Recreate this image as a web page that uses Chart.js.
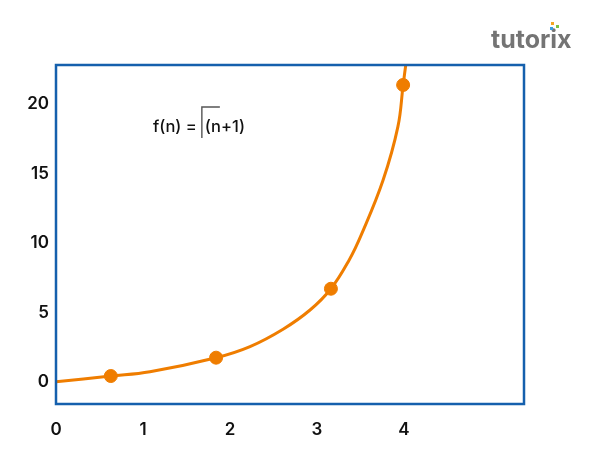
<!DOCTYPE html>
<html>

<head>
  <meta name="viewport" content="width=device-width,initial-scale=1.0">
  <title>f(n) = Γ(n+1)</title>
  <style>
    html, body { margin: 0; padding: 0; background: #fff; }
    .wrap { width: 600px; height: 450px; }
  </style>
</head>

<body>
  <div class="wrap"><canvas id="gamma-chart" width="600" height="450"></canvas></div>

  <script src="https://cdn.jsdelivr.net/npm/chart.js"></script>

  <script>
    // values (axis units)
    const curveX = [0, 0.63, 1.08, 1.84, 2.23, 2.61, 2.92, 3.16, 3.37, 3.51, 3.76, 3.93, 3.99, 4.02];
    const curveY = [0.02, 0.43, 0.74, 1.75, 2.55, 3.8, 5.18, 6.71, 8.78, 10.6, 14.53, 18.37, 21.37, 22.8];
    const dotX = [0.63, 1.84, 3.16, 3.99];
    const dotY = [0.43, 1.75, 6.71, 21.37];
    const xTicks = [0, 1, 2, 3, 4];
    const yTicks = [0, 5, 10, 15, 20];
    const formulaLeft = 'f(n) =';
    const formulaRight = '(n+1)';
    const logoText = 'tutorix';

    const ORANGE = '#ef7d00';
    const BLUE = '#1560ad';
    const tickFont = { family: 'Inter', size: 17, weight: '600' };

    const frameAndText = {
      id: 'frameAndText',
      afterDraw(chart) {
        const { ctx, chartArea: a } = chart;
        ctx.save();
        // frame
        ctx.strokeStyle = BLUE;
        ctx.lineWidth = 2.5;
        ctx.strokeRect(a.left, a.top, a.right - a.left, a.bottom - a.top);

        // formula
        ctx.fillStyle = '#111';
        ctx.font = '500 16.5px Inter';
        ctx.textBaseline = 'middle';
        ctx.fillText(formulaLeft, 153, 127);
        const gx = 153 + ctx.measureText(formulaLeft).width + 5;
        ctx.strokeStyle = '#555';
        ctx.lineWidth = 1.4;
        ctx.beginPath();
        ctx.moveTo(gx, 138);
        ctx.lineTo(gx, 107);
        ctx.lineTo(gx + 18, 107);
        ctx.stroke();
        ctx.fillText(formulaRight, gx + 3, 127);

        // logo
        ctx.fillStyle = '#747474';
        ctx.font = 'bold 25px Inter';
        ctx.textBaseline = 'alphabetic';
        ctx.fillText(logoText, 491, 48);
        [['#f5a623', 551, 22], ['#7cc142', 556, 25], ['#3aa0e0', 550, 27]].forEach(([c, x, y]) => {
          ctx.fillStyle = c;
          ctx.fillRect(x, y, 3, 3);
        });
        ctx.restore();
      }
    };

    new Chart(document.getElementById('gamma-chart'), {
      type: 'scatter',
      data: {
        datasets: [{
          type: 'line',
          data: curveX.map((x, i) => ({ x, y: curveY[i] })),
          borderColor: ORANGE,
          borderWidth: 3,
          pointRadius: 0,
          tension: 0.4,
          fill: false
        }, {
          data: dotX.map((x, i) => ({ x, y: dotY[i] })),
          backgroundColor: ORANGE,
          borderColor: ORANGE,
          pointRadius: 6.5
        }]
      },
      options: {
        responsive: false,
        animation: false,
        layout: { padding: { top: 65, right: 76, left: 0, bottom: 0 } },
        plugins: { legend: { display: false }, tooltip: { enabled: false } },
        scales: {
          x: {
            type: 'linear',
            min: 0,
            max: 468 / 87,
            grid: { display: false, drawTicks: false },
            border: { display: false },
            afterBuildTicks: s => { s.ticks = xTicks.map(v => ({ value: v })); },
            afterFit: s => { s.height = 46; },
            ticks: { color: '#111', font: tickFont, padding: 16, maxRotation: 0 }
          },
          y: {
            min: -22 / 13.9,
            max: 317 / 13.9,
            grid: { display: false, drawTicks: false },
            border: { display: false },
            afterBuildTicks: s => { s.ticks = yTicks.map(v => ({ value: v })); },
            afterFit: s => { s.width = 56; },
            ticks: { color: '#111', font: tickFont, padding: 7 }
          }
        }
      },
      plugins: [frameAndText]
    });
  </script>
</body>

</html>
